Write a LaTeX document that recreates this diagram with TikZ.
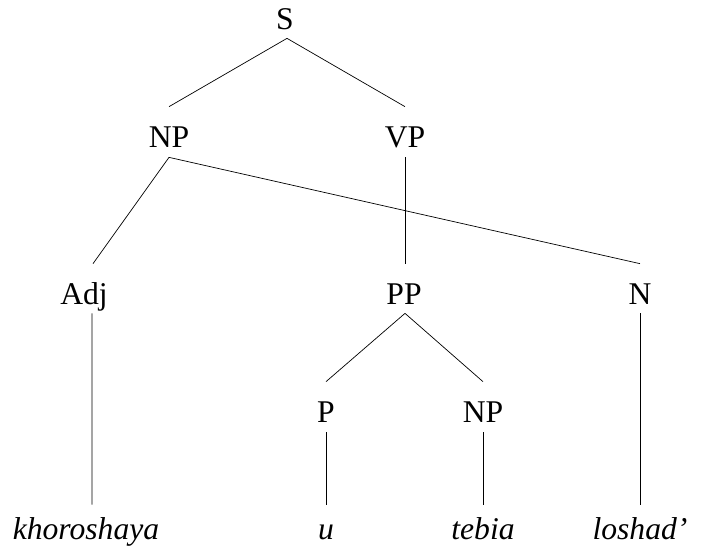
\documentclass[tikz,border=0pt]{standalone}
\usepackage{fontspec}
\setmainfont{Liberation Serif}
\usepackage{tikz}

\begin{document}
\begin{tikzpicture}[x=0.02cm,y=-0.02cm,
    cat/.style={anchor=base,inner sep=0pt,text height=0.4cm,text depth=0pt,font=\fontsize{18}{21}\selectfont},
    word/.style={cat,font=\fontsize{18}{21}\selectfont\itshape}]
    \useasboundingbox (0,0) rectangle (706,548);
    % categories
    \node[cat] (S) at (285,29) {S};
    \node[cat] (NP) at (169,147) {NP};
    \node[cat] (VP) at (405,147) {VP};
    \node[cat] (Adj) at (84,304) {Adj};
    \node[cat] (PP) at (404,304) {PP};
    \node[cat] (N) at (640,304) {N};
    \node[cat] (P) at (326,422) {P};
    \node[cat] (NPb) at (483,422) {NP};
    % words
    \node[word] (khoroshaya) at (86,539) {khoroshaya};
    \node[word] (u) at (326,539) {u};
    \node[word] (tebia) at (483,539) {tebia};
    \node[word] (loshad) at (640,539) {loshad'};
    % branches
    \draw ([xshift=0.04cm,yshift=-0.18cm]S.south) -- ([yshift=0.4cm]NP.north);
    \draw ([xshift=0.04cm,yshift=-0.18cm]S.south) -- ([yshift=0.4cm]VP.north);
    \draw ([yshift=-0.2cm]NP.south) -- ([xshift=0.18cm,yshift=0.4cm]Adj.north);
    \draw ([yshift=-0.2cm]NP.south) -- ([yshift=0.4cm]N.north);
    \draw ([yshift=-0.2cm]VP.south) -- ([xshift=0.02cm,yshift=0.4cm]PP.north);
    \draw ([xshift=0.02cm,yshift=-0.18cm]PP.south) -- ([yshift=0.4cm]P.north);
    \draw ([xshift=0.02cm,yshift=-0.18cm]PP.south) -- ([yshift=0.4cm]NPb.north);
    \draw ([xshift=0.16cm,yshift=-0.18cm]Adj.south) -- ([xshift=0.12cm,yshift=0.28cm]khoroshaya.north);
    \draw ([yshift=-0.2cm]P.south) -- ([yshift=0.28cm]u.north);
    \draw ([yshift=-0.2cm]NPb.south) -- ([yshift=0.28cm]tebia.north);
    \draw ([yshift=-0.18cm]N.south) -- ([yshift=0.28cm]loshad.north);
  \end{tikzpicture}
\end{document}
